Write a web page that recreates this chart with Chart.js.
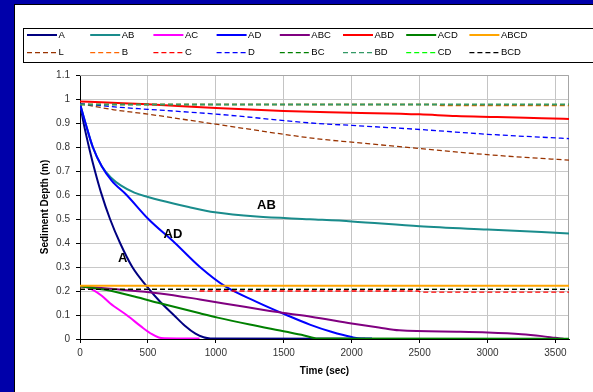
<!DOCTYPE html>
<html>
<head>
<meta charset="utf-8">
<script src="https://cdn.jsdelivr.net/npm/chart.js@4.4.1/dist/chart.umd.min.js"></script>
<style>
  html, body { margin: 0; padding: 0; background: #0000aa; overflow: hidden; }
  #panel {
    position: absolute; left: 14px; top: 4px; width: 579px; height: 388px;
    background: #fff; border-top: 1px solid #000; border-left: 1px solid #000;
  }
  canvas { display: block; }
</style>
</head>
<body>
<div id="panel"><canvas id="c" width="578" height="387"></canvas></div>
<script>
// ===== Data (time in sec, depth in m) =====
const seriesNames = ['A', 'AB', 'AC', 'AD', 'ABC', 'ABD', 'ACD', 'ABCD',
  'L', 'B', 'C', 'D', 'BC', 'BD', 'CD', 'BCD'];
const seriesColors = ['#000080', '#1a8c8c', '#ff00ff', '#0000ff', '#800080', '#ff0000', '#008000', '#ffa500',
  '#993300', '#ff6600', '#ff0000', '#0000ff', '#008000', '#339966', '#00ff00', '#000000'];

const xTickLabels = ['0', '500', '1000', '1500', '2000', '2500', '3000', '3500'];
const yTickLabels = ['0', '0.1', '0.2', '0.3', '0.4', '0.5', '0.6', '0.7', '0.8', '0.9', '1', '1.1'];

const sA = [[0, 0.98], [30, 0.89], [70, 0.79], [110, 0.7], [155, 0.61], [221, 0.5], [295, 0.4], [385, 0.3],
  [498, 0.215], [590, 0.155], [690, 0.1], [772, 0.055], [850, 0.022], [910, 0.007], [960, 0.002], [2100, 0.001]];
const sAB = [[0, 0.98], [40, 0.9], [94, 0.8], [160, 0.72], [233, 0.67], [300, 0.64], [400, 0.61], [500, 0.592],
  [589, 0.578], [800, 0.55], [993, 0.528], [1300, 0.51], [1692, 0.499], [2000, 0.49], [2500, 0.47],
  [3000, 0.456], [3600, 0.44]];
const sAC = [[0, 0.22], [50, 0.215], [98, 0.204], [160, 0.18], [221, 0.149], [343, 0.1], [466, 0.045],
  [530, 0.02], [580, 0.006], [620, 0.003], [880, 0.002]];
const sAD = [[0, 0.98], [40, 0.9], [94, 0.8], [160, 0.72], [233, 0.66], [343, 0.6], [503, 0.5], [699, 0.4],
  [883, 0.3], [1067, 0.22], [1300, 0.155], [1520, 0.1], [1692, 0.06], [1850, 0.03], [2000, 0.008],
  [2070, 0.002], [2150, 0.002]];
const sABC = [[0, 0.22], [200, 0.21], [589, 0.19], [883, 0.165], [1200, 0.135], [1500, 0.108], [1700, 0.093],
  [2000, 0.065], [2200, 0.048], [2350, 0.036], [2800, 0.03], [3000, 0.027], [3250, 0.02], [3400, 0.012],
  [3500, 0.005], [3560, 0.001]];
const sABD = [[0, 0.99], [200, 0.985], [500, 0.978], [1000, 0.962], [1500, 0.95], [2000, 0.943],
  [2500, 0.936], [2770, 0.929], [3070, 0.925], [3400, 0.92], [3600, 0.917]];
const sACD = [[0, 0.22], [196, 0.204], [400, 0.177], [589, 0.149], [883, 0.107], [1013, 0.089], [1250, 0.06],
  [1520, 0.03], [1650, 0.015], [1750, 0.002], [3600, 0.001]];
const sABCD = [[0, 0.222], [3600, 0.222]];
const sL = [[0, 0.98], [100, 0.97], [250, 0.955], [500, 0.937], [1000, 0.895], [1750, 0.834], [2000, 0.82],
  [2500, 0.794], [3000, 0.768], [3600, 0.745]];
const sB = [[0, 0.977], [2640, 0.977], [2660, 0.972], [3600, 0.972]];
const sC = [[0, 0.207], [850, 0.207], [870, 0.2], [2490, 0.2], [2510, 0.195], [3600, 0.195]];
const sD = [[0, 0.98], [100, 0.975], [300, 0.965], [500, 0.957], [1000, 0.937], [1750, 0.898], [2000, 0.89],
  [2500, 0.873], [3000, 0.853], [3600, 0.835]];
const sBC = [[0, 0.977], [3600, 0.977]];
const sBD = [[0, 0.977], [3600, 0.977]];
const sCD = [[0, 0.207], [3600, 0.207]];
const sBCD = [[0, 0.207], [3600, 0.207]];

const seriesData = [sA, sAB, sAC, sAD, sABC, sABD, sACD, sABCD, sL, sB, sC, sD, sBC, sBD, sCD, sBCD];

// curve labels inside the plot (data coords)
const curveLabels = [
  { text: 'A', x: 314, y: 0.337 },
  { text: 'AD', x: 684, y: 0.437 },
  { text: 'AB', x: 1373, y: 0.555 },
];

(() => {
  const canvas = document.getElementById('c');
  const font = '"Liberation Sans", Arial, sans-serif';
  const yMajor = yTickLabels.map(Number);
  const yAll = yMajor.concat(yMajor.slice(0, -1).map(v => v + 0.05)).sort((a, b) => a - b);
  const isMajor = v => Math.abs(v * 10 - Math.round(v * 10)) < 1e-6;

  const datasets = seriesNames.map((name, i) => {
    const dashed = i >= 8;
    return {
      label: name,
      data: seriesData[i].map(([x, y]) => ({ x, y })),
      borderColor: seriesColors[i],
      borderWidth: dashed ? 1.3 : 2,
      borderDash: dashed ? [5, 3] : [],
      pointRadius: 0,
      fill: false,
      cubicInterpolationMode: 'monotone',
      order: seriesNames.length - i,   // later series drawn on top, like Excel
    };
  });

  const extrasPlugin = {
    id: 'extras',
    beforeDatasetsDraw(chart) {
      const { ctx, chartArea: a } = chart;
      ctx.save();
      ctx.strokeStyle = '#a6a6a6';
      ctx.lineWidth = 1;
      ctx.beginPath();
      ctx.moveTo(a.left, a.top + 0.5);
      ctx.lineTo(a.right - 0.5, a.top + 0.5);
      ctx.lineTo(a.right - 0.5, a.bottom);
      ctx.stroke();
      ctx.restore();
    },
    afterDatasetsDraw(chart) {
      const { ctx, scales: { x, y } } = chart;
      ctx.save();
      ctx.fillStyle = '#000';
      ctx.font = `bold 13px ${font}`;
      ctx.textAlign = 'center';
      ctx.textBaseline = 'middle';
      curveLabels.forEach(l => ctx.fillText(l.text, x.getPixelForValue(l.x), y.getPixelForValue(l.y)));
      ctx.restore();
    },
    afterDraw(chart) {
      // legend: 2 rows x 8 columns, Excel style
      const { ctx } = chart;
      ctx.save();
      ctx.strokeStyle = '#000';
      ctx.lineWidth = 1;
      ctx.strokeRect(8.5, 23.5, 600, 34);
      ctx.font = `9.5px ${font}`;
      ctx.textBaseline = 'middle';
      ctx.textAlign = 'left';
      chart.data.datasets.forEach((ds, i) => {
        const col = i % 8, row = Math.floor(i / 8);
        const x0 = 12 + col * 63.2;
        const yy = row ? 47.7 : 30;
        ctx.strokeStyle = ds.borderColor;
        ctx.lineWidth = ds.borderWidth;
        ctx.setLineDash(ds.borderDash);
        ctx.beginPath();
        ctx.moveTo(x0, yy);
        ctx.lineTo(x0 + 30, yy);
        ctx.stroke();
        ctx.setLineDash([]);
        ctx.fillStyle = '#000';
        ctx.fillText(ds.label, x0 + 31.5, yy);
      });
      ctx.restore();
    },
  };

  new Chart(canvas.getContext('2d'), {
    type: 'line',
    data: { datasets },
    options: {
      responsive: false,
      animation: false,
      layout: { padding: { top: 70, right: 24, left: 0, bottom: 0 } },
      scales: {
        x: {
          type: 'linear',
          min: 0,
          max: 3600,
          afterBuildTicks: s => { s.ticks = xTickLabels.map(v => ({ value: Number(v) })); },
          afterFit: s => { s.height = 53; },
          grid: { color: '#c4c4c4', tickColor: '#000', tickLength: 4 },
          border: { color: '#000', width: 1 },
          ticks: {
            color: '#333', font: { family: font, size: 10 }, padding: 4, maxRotation: 0,
            callback: v => xTickLabels[xTickLabels.indexOf(String(v))] ?? '',
          },
          title: {
            display: true, text: 'Time (sec)', color: '#000',
            font: { family: font, size: 10, weight: 'bold' }, padding: { top: 0, bottom: 15 },
          },
        },
        y: {
          type: 'linear',
          min: 0,
          max: 1.1,
          afterBuildTicks: s => { s.ticks = yAll.map(v => ({ value: v })); },
          afterFit: s => { s.width = 65; },
          grid: {
            color: c => (c.tick && isMajor(c.tick.value)) ? '#c8c8c8' : '#dedede',
            tickColor: c => (c.tick && isMajor(c.tick.value)) ? '#000' : 'rgba(0,0,0,0)',
            tickLength: 4,
          },
          border: { color: '#000', width: 1 },
          ticks: {
            color: '#333', font: { family: font, size: 10 }, padding: 6,
            callback: v => isMajor(v) ? yTickLabels[Math.round(v * 10)] : '',
          },
          title: {
            display: true, text: 'Sediment Depth (m)', color: '#000',
            font: { family: font, size: 10, weight: 'bold' }, padding: { top: 24, bottom: 0 },
          },
        },
      },
      plugins: {
        legend: { display: false },
        tooltip: { enabled: false },
      },
    },
    plugins: [extrasPlugin],
  });
})();
</script>
</body>
</html>
